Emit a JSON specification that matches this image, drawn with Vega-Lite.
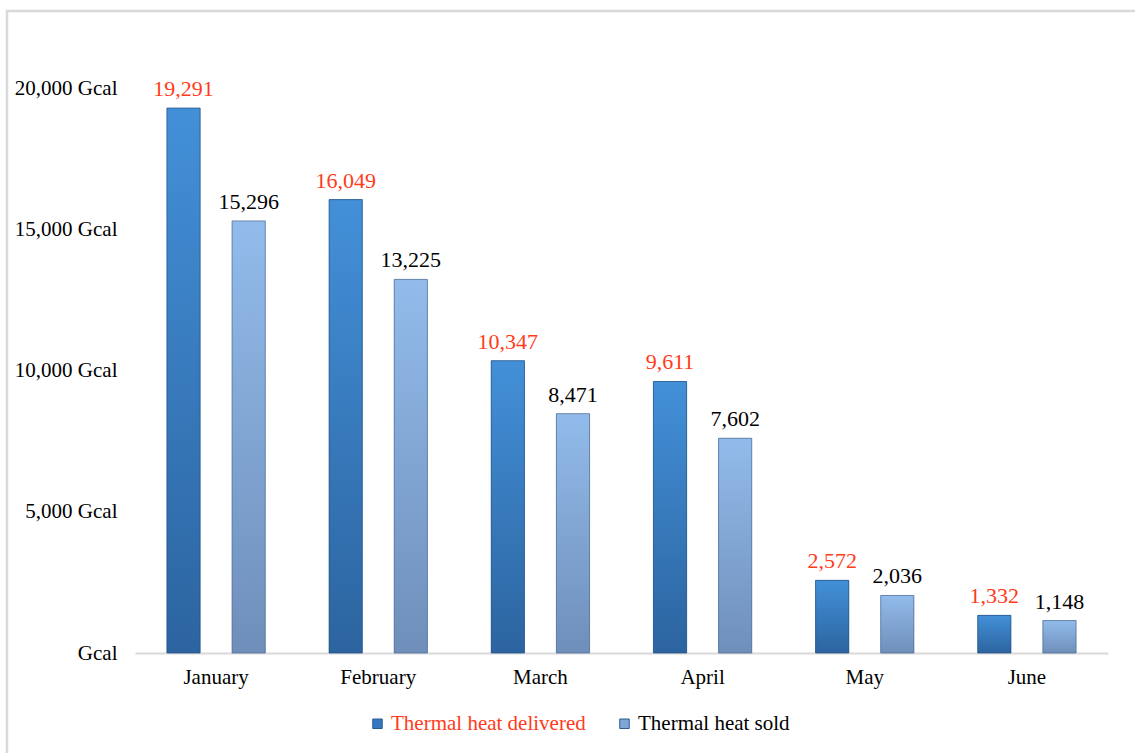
{
  "$schema": "https://vega.github.io/schema/vega-lite/v6.json",
  "autosize": "none",
  "padding": {"left": 7, "top": 11, "right": 0, "bottom": 0},
  "width": 1140,
  "height": 750,
  "background": "white",
  "config": {
    "view": {"stroke": "#d9d9d9", "strokeWidth": 2.5},
    "font": "Liberation Serif"
  },
  "data": {
    "values": [
      {"month": "January", "series": "Thermal heat delivered", "value": 19291},
      {"month": "January", "series": "Thermal heat sold", "value": 15296},
      {"month": "February", "series": "Thermal heat delivered", "value": 16049},
      {"month": "February", "series": "Thermal heat sold", "value": 13225},
      {"month": "March", "series": "Thermal heat delivered", "value": 10347},
      {"month": "March", "series": "Thermal heat sold", "value": 8471},
      {"month": "April", "series": "Thermal heat delivered", "value": 9611},
      {"month": "April", "series": "Thermal heat sold", "value": 7602},
      {"month": "May", "series": "Thermal heat delivered", "value": 2572},
      {"month": "May", "series": "Thermal heat sold", "value": 2036},
      {"month": "June", "series": "Thermal heat delivered", "value": 1332},
      {"month": "June", "series": "Thermal heat sold", "value": 1148}
    ]
  },
  "encoding": {
    "x": {
      "field": "month", "type": "nominal", "sort": null,
      "scale": {"range": [128, 1101], "paddingInner": 0, "paddingOuter": 0},
      "axis": {
        "title": null, "orient": "bottom", "offset": -108,
        "domainColor": "#d9d9d9", "domainWidth": 2, "ticks": false,
        "labelAngle": 0, "labelFont": "Liberation Serif", "labelFontSize": 21,
        "labelColor": "black", "labelPadding": 13
      }
    },
    "xOffset": {
      "field": "series", "type": "nominal",
      "scale": {"paddingInner": 0.49, "paddingOuter": 0.49}
    },
    "y": {
      "field": "value", "type": "quantitative",
      "scale": {"domain": [0, 20000], "range": [642, 77], "nice": false, "zero": true},
      "axis": {
        "title": null, "offset": -128, "domain": false, "ticks": false, "grid": false,
        "values": [0, 5000, 10000, 15000, 20000],
        "labelExpr": "datum.value === 0 ? 'Gcal' : format(datum.value, ',') + ' Gcal'",
        "labelFont": "Liberation Serif", "labelFontSize": 21, "labelColor": "black",
        "labelPadding": 18
      }
    }
  },
  "layer": [
    {
      "mark": {"type": "bar"},
      "encoding": {
        "color": {
          "field": "series", "type": "nominal",
          "scale": {"domain": ["Thermal heat delivered", "Thermal heat sold"], "range": ["#3479bf", "#7fa6d6"]},
          "legend": {
            "title": null, "orient": "none", "direction": "horizontal",
            "legendX": 360, "legendY": 702,
            "symbolType": "square", "symbolSize": 90, "symbolStrokeColor": "#2a5d91", "symbolStrokeWidth": 1,
            "labelFont": "Liberation Serif", "labelFontSize": 21, "labelOffset": 3,
            "labelLimit": 0,
            "columnPadding": 28,
            "encode": {
              "labels": {"update": {"fill": {"signal": "datum.value === 'Thermal heat delivered' ? '#ff3b1a' : 'black'"}}}
            }
          }
        }
      }
    },
    {
      "transform": [{"filter": "datum.series === 'Thermal heat delivered'"}],
      "mark": {
        "type": "bar",
        "fill": {"gradient": "linear", "x1": 0, "y1": 0, "x2": 0, "y2": 1,
          "stops": [{"offset": 0, "color": "#4390d8"}, {"offset": 1, "color": "#2c64a0"}]},
        "stroke": "#1f4f80", "strokeWidth": 1, "strokeOpacity": 0.7
      }
    },
    {
      "transform": [{"filter": "datum.series === 'Thermal heat sold'"}],
      "mark": {
        "type": "bar",
        "fill": {"gradient": "linear", "x1": 0, "y1": 0, "x2": 0, "y2": 1,
          "stops": [{"offset": 0, "color": "#92bbeb"}, {"offset": 1, "color": "#6f8fba"}]},
        "stroke": "#4a6a94", "strokeWidth": 1, "strokeOpacity": 0.7
      }
    },
    {
      "mark": {"type": "text", "baseline": "bottom", "dy": -7, "font": "Liberation Serif", "fontSize": 22},
      "encoding": {
        "text": {"field": "value", "type": "quantitative", "format": ","},
        "fill": {
          "condition": {"test": "datum.series === 'Thermal heat delivered'", "value": "#ff3b1a"},
          "value": "black"
        }
      }
    }
  ]
}
